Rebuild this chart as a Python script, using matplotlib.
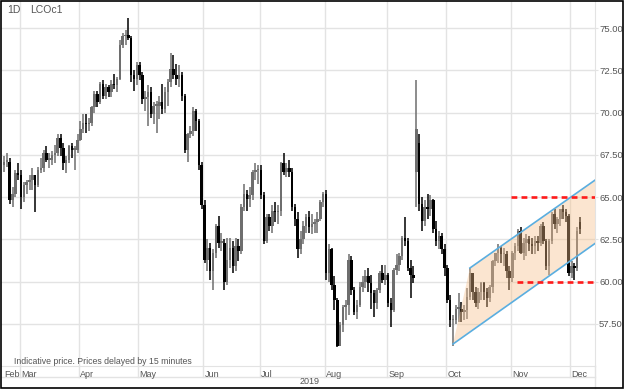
import numpy as np
import pandas as pd
import matplotlib
matplotlib.use("Agg")
import matplotlib.pyplot as plt
from matplotlib.patches import Rectangle, Polygon

plt.rcParams['font.family'] = ['Liberation Sans', 'DejaVu Sans']

# trading days, Good Friday closed
days = pd.bdate_range('2019-02-21', '2019-12-05')
days = days[days != pd.Timestamp('2019-04-19')]

opens = [66.9, 67.1, 67.1, 64.8, 65.2, 66.4,
         66.3, 65.0, 65.7, 65.9, 66.0, 66.3, 65.7, 66.6, 66.7, 67.6, 67.2, 67.2, 67.5, 67.6, 68.5, 67.9, 67.0, 67.2, 68.0, 67.8, 67.8,
         68.4, 69.0, 69.4, 69.3, 69.4, 70.3, 71.1, 70.6, 71.7, 71.0, 71.5, 71.2, 71.7, 71.6, 72.0, 74.0, 74.5, 74.6, 74.4, 72.2, 72.0,
         72.8, 72.2, 70.8, 70.9, 71.2, 69.9, 70.4, 70.4, 70.6, 70.2, 71.2, 71.8, 72.6, 72.2, 72.0, 72.2, 71.0, 67.8, 68.7, 68.9, 70.1, 69.5, 66.9,
         64.5, 61.3, 62.0, 60.6, 61.7, 63.3, 62.3, 62.3, 60.0, 61.3, 62.0, 60.9, 62.1, 61.8, 64.4, 65.2, 64.9, 65.1, 66.5, 66.6,
         66.6, 65.1, 62.4, 63.8, 63.3, 64.2, 64.1, 64.2, 67.0, 66.5, 66.7, 66.5, 64.4, 63.7, 61.9, 62.5, 63.3, 63.8, 63.2, 63.4, 63.5, 63.7, 64.7,
         65.2, 60.5, 61.9, 59.8, 58.9, 56.2, 57.4, 58.5, 58.6, 61.3, 59.5, 58.2, 58.6, 59.7, 60.0, 60.3, 59.9, 59.3, 58.7, 59.5, 60.5, 60.1,
         60.4, 58.7, 58.3, 60.7, 61.0, 61.5, 62.6, 62.4, 60.8, 60.4, 66.5, 68.2, 64.6, 63.6, 64.4, 64.3, 64.8, 63.1, 62.4, 62.7, 61.9,
         60.8, 58.9, 57.7, 57.7, 58.4, 58.4, 58.2, 58.3, 59.1, 60.5, 59.4, 58.7, 59.4, 59.9, 59.4, 59.0, 59.7, 61.2, 61.7, 62.0, 61.6, 61.6, 60.6,
         60.2, 61.7, 62.1, 63.0, 61.7, 62.3, 62.5, 62.2, 62.1, 62.4, 62.3, 63.3, 62.4, 60.9, 62.4, 64.0, 63.4, 63.7, 64.3, 64.1, 63.9,
         60.5, 60.9, 60.8, 63.5]
highs = [67.4, 67.6, 67.3, 65.6, 66.6, 67.0,
         66.6, 65.9, 66.0, 66.3, 66.7, 66.3, 66.8, 67.3, 67.8, 68.0, 67.6, 67.7, 68.1, 68.7, 68.7, 68.2, 67.4, 68.1, 68.2, 68.0, 68.7,
         69.5, 69.9, 69.9, 69.7, 70.4, 71.3, 71.3, 71.8, 71.9, 71.7, 71.6, 71.9, 72.3, 72.1, 74.3, 74.7, 74.9, 75.6, 74.5, 72.5, 73.0,
         73.0, 72.4, 71.3, 71.6, 71.5, 70.6, 70.7, 71.0, 71.7, 71.5, 72.0, 73.5, 73.4, 72.9, 72.8, 72.4, 71.1, 68.8, 69.2, 70.3, 70.2, 69.6,
         67.1, 64.8, 62.5, 62.3, 61.9, 63.4, 63.9, 62.9, 62.5, 62.6, 62.6, 62.4, 62.6, 62.5, 64.6, 65.8, 65.4, 65.6, 66.6, 67.0, 66.9,
         66.9, 65.3, 64.0, 64.0, 64.5, 64.7, 64.5, 67.1, 67.6, 67.0, 67.2, 66.7, 64.6, 64.1, 63.0, 63.6, 64.0, 64.2, 64.0, 63.7, 64.1, 64.8, 65.3,
         65.4, 62.2, 62.0, 60.3, 59.0, 57.6, 58.6, 58.9, 61.6, 61.5, 59.7, 58.9, 60.0, 60.3, 60.7, 60.8, 60.4, 59.5, 59.6, 60.6, 61.0, 61.0,
         60.5, 59.0, 60.8, 61.6, 61.7, 62.7, 63.8, 62.6, 61.3, 60.9, 71.95, 68.7, 65.0, 64.8, 65.2, 65.1, 64.9, 63.6, 63.0, 62.9, 62.2,
         61.0, 59.2, 58.0, 58.6, 59.3, 58.8, 58.6, 59.6, 60.8, 60.5, 59.7, 59.6, 60.0, 60.0, 59.6, 59.8, 61.3, 61.7, 62.2, 62.1, 62.0, 61.8, 60.9,
         61.8, 62.3, 63.1, 63.2, 62.6, 62.8, 62.7, 62.6, 62.7, 62.7, 63.4, 63.5, 62.5, 62.5, 64.1, 64.3, 63.8, 64.3, 64.5, 64.3, 64.0,
         61.2, 61.1, 63.2, 63.8]
lows = [66.5, 66.8, 64.6, 64.4, 65.0, 66.0,
        64.3, 64.7, 65.2, 65.4, 65.4, 64.1, 65.6, 66.4, 66.5, 67.1, 66.7, 66.9, 67.0, 67.4, 67.4, 66.6, 66.4, 67.0, 67.3, 66.6, 67.6,
        68.3, 68.8, 68.8, 68.9, 69.2, 70.0, 70.3, 70.5, 70.8, 70.8, 70.9, 70.9, 71.4, 71.2, 71.9, 73.8, 74.0, 74.3, 71.8, 71.3, 71.6,
        71.9, 70.5, 70.1, 69.2, 69.7, 69.3, 68.8, 69.6, 69.9, 70.0, 70.4, 71.5, 72.0, 71.6, 71.5, 70.7, 67.6, 67.1, 68.5, 68.6, 68.9, 66.6,
        64.3, 61.1, 60.6, 60.1, 59.5, 61.4, 62.0, 61.8, 59.5, 59.8, 60.8, 60.5, 60.6, 61.2, 61.6, 64.2, 64.2, 64.4, 64.8, 66.0, 65.8,
        64.9, 62.2, 62.3, 63.0, 62.9, 63.5, 63.4, 63.9, 66.3, 66.2, 66.2, 64.2, 63.3, 61.4, 61.6, 62.2, 62.9, 62.9, 62.8, 62.9, 62.9, 63.6, 64.4,
        60.1, 60.0, 59.5, 58.3, 56.1, 56.2, 57.0, 57.7, 58.0, 59.2, 58.0, 57.8, 58.5, 59.4, 59.6, 59.4, 58.4, 57.9, 58.4, 59.3, 59.9, 59.8,
        58.5, 57.3, 58.2, 60.4, 60.6, 61.3, 62.1, 60.6, 59.0, 59.9, 64.4, 64.2, 63.0, 63.3, 63.7, 63.9, 62.9, 62.1, 61.9, 61.6, 60.3,
        58.7, 57.3, 56.2, 57.5, 57.6, 57.6, 57.7, 57.8, 58.9, 58.9, 58.5, 58.4, 58.9, 58.9, 58.5, 58.8, 59.3, 60.9, 61.1, 61.1, 60.9, 60.2, 59.5,
        60.0, 61.3, 61.8, 61.6, 61.3, 61.5, 61.8, 61.6, 61.6, 61.8, 62.1, 62.2, 60.7, 60.4, 62.2, 63.1, 62.9, 63.3, 63.7, 63.5, 60.3,
        60.2, 60.1, 60.6, 62.8]
closes = [67.1, 67.1, 64.8, 65.2, 66.4, 66.3,
          65.0, 65.7, 65.9, 66.0, 66.3, 65.7, 66.6, 66.7, 67.6, 67.2, 67.2, 67.5, 67.6, 68.5, 67.9, 67.0, 67.2, 68.0, 67.8, 67.8, 68.4,
          69.0, 69.4, 69.3, 69.4, 70.3, 71.1, 70.6, 71.7, 71.0, 71.5, 71.2, 71.7, 71.6, 72.0, 74.0, 74.5, 74.6, 74.4, 72.2, 72.0, 72.8,
          72.2, 70.8, 70.9, 71.2, 69.9, 70.4, 70.4, 70.6, 70.2, 71.2, 71.8, 72.6, 72.2, 72.0, 72.2, 71.0, 67.8, 68.7, 68.9, 70.1, 69.5, 66.9, 64.5,
          61.3, 62.0, 60.6, 61.7, 63.3, 62.3, 62.3, 60.0, 61.3, 62.0, 60.9, 62.1, 61.8, 64.4, 65.2, 64.9, 65.1, 66.5, 66.6, 66.6,
          65.1, 62.4, 63.8, 63.3, 64.2, 64.1, 64.2, 67.0, 66.5, 66.7, 66.5, 64.4, 63.7, 61.9, 62.5, 63.3, 63.8, 63.2, 63.4, 63.5, 63.7, 64.7, 65.2,
          60.5, 61.9, 59.8, 58.9, 56.2, 57.4, 58.5, 58.6, 61.3, 59.5, 58.2, 58.6, 59.7, 60.0, 60.3, 59.9, 59.3, 58.7, 59.5, 60.5, 60.1, 60.4,
          58.7, 58.3, 60.7, 61.0, 61.5, 62.6, 62.4, 60.8, 60.4, 60.2, 69.0, 64.6, 63.6, 64.4, 64.3, 64.8, 63.1, 62.4, 62.7, 61.9, 60.8,
          58.9, 57.7, 57.7, 58.4, 58.4, 58.2, 58.3, 59.1, 60.5, 59.4, 58.7, 59.4, 59.9, 59.4, 59.0, 59.7, 61.2, 61.7, 62.0, 61.6, 61.6, 60.6, 60.2,
          61.7, 62.1, 63.0, 61.7, 62.3, 62.5, 62.2, 62.1, 62.4, 62.3, 63.3, 62.4, 60.9, 62.4, 64.0, 63.4, 63.7, 64.3, 64.1, 63.9, 60.5,
          60.9, 60.8, 63.0, 63.1]

months = ['Feb', 'Mar', 'Apr', 'May', 'Jun', 'Jul', 'Aug', 'Sep', 'Oct', 'Nov', 'Dec']
y_ticks = [57.5, 60.0, 62.5, 65.0, 67.5, 70.0, 72.5, 75.0]

# channel (trading day index, price)
chan_lower = [(159, 56.3), (209.3, 62.25)]
chan_upper = [(165, 60.8), (209.3, 66.0)]
resist = [(179.5, 65.0), (209.3, 65.0)]
support = [(181.5, 60.0), (209.3, 60.0)]

o = np.array(opens); h = np.array(highs); l = np.array(lows); c = np.array(closes)
idx = np.arange(len(c))

fig = plt.figure(figsize=(6.25, 3.9), dpi=100)
W, H = 625, 390
ax = fig.add_axes([1 / W, 24 / H, 594 / W, 365 / H])
ax.set_xlim(-1.1, 209.3)
ax.set_ylim(55.0, 76.6)

grid_c = '#e3e3e3'
for t in y_ticks:
    ax.axhline(t, color=grid_c, lw=1, zorder=0)

# month starts
month_idx = []
for m in range(2, 13):
    pos = np.where((days.month == m))[0]
    month_idx.append(pos[0])
for i, mi in enumerate(month_idx):
    if i > 0:
        ax.axvline(mi - 0.5, color=grid_c, lw=1, zorder=0)

up = c >= o
cols = np.where(up, '#6e6e6e', '#000000')
ax.vlines(idx, l, h, colors=cols, lw=1.1, zorder=2)
body_h = np.maximum(np.abs(c - o), 0.08)
ax.bar(idx, body_h, bottom=np.minimum(o, c), width=0.9, color=cols, zorder=3, linewidth=0)

# channel fill drawn over candles
poly = Polygon([chan_lower[0], chan_upper[0], chan_upper[1], chan_lower[1]],
               closed=True, facecolor='#f7c08a', alpha=0.4, edgecolor='none', zorder=4)
ax.add_patch(poly)
ax.plot(*zip(*chan_lower), color='#5aaee0', lw=1.2, zorder=5)
ax.plot(*zip(*chan_upper), color='#5aaee0', lw=1.2, zorder=5)
ax.plot(*zip(*resist), color='#ff1a1a', lw=1.9, ls=(0, (2.2, 1.6)), zorder=5)
ax.plot(*zip(*support), color='#ff1a1a', lw=1.9, ls=(0, (2.2, 1.6)), zorder=5)

ax.yaxis.tick_right()
ax.set_yticks(y_ticks)
ax.set_yticklabels(['%.2f' % t for t in y_ticks], fontsize=6.8, color='#555555')
ax.tick_params(axis='y', length=2, color=grid_c, pad=1)
ax.set_xticks([])
for s in ['top', 'left']:
    ax.spines[s].set_visible(False)
ax.spines['right'].set_color(grid_c)
ax.spines['bottom'].set_color(grid_c)

# month label row
for i, mi in enumerate(month_idx):
    xpos = max(mi - 0.5, -1.1)
    ax.text(xpos + 0.5, -0.012, months[i], transform=ax.get_xaxis_transform(),
            fontsize=6.5, color='#555555', ha='left', va='top')
    if i > 0:
        ax.plot([mi - 0.5, mi - 0.5], [0, -11 / 365], transform=ax.get_xaxis_transform(),
                color=grid_c, lw=1, clip_on=False)
ax.plot([-1.1, 209.3], [-11 / 365, -11 / 365], transform=ax.get_xaxis_transform(),
        color=grid_c, lw=1, clip_on=False)
ax.plot([209.3, 209.3], [0, -22 / 365], transform=ax.get_xaxis_transform(),
        color=grid_c, lw=1, clip_on=False)
fig.text(310 / W, 1 - 382 / H, '2019', fontsize=6.5, color='#555555', ha='center', va='center')

ax.text(6 / 594, 1 - 9 / 365, '1D', transform=ax.transAxes, fontsize=7.5, color='#555555', va='center')
ax.text(29 / 594, 1 - 9 / 365, 'LCOc1', transform=ax.transAxes, fontsize=7.5, color='#555555', va='center')
ax.text(13 / 594, 1 - 361 / 365, 'Indicative price. Prices delayed by 15 minutes',
        transform=ax.transAxes, fontsize=6.3, color='#555555', va='center')

# outer frame
fig.patches.append(Rectangle((0.5 / W, 2.5 / H), 622 / W, 387 / H, transform=fig.transFigure,
                             fill=False, edgecolor='black', lw=1.2))

fig.savefig('out.png', dpi=100)
